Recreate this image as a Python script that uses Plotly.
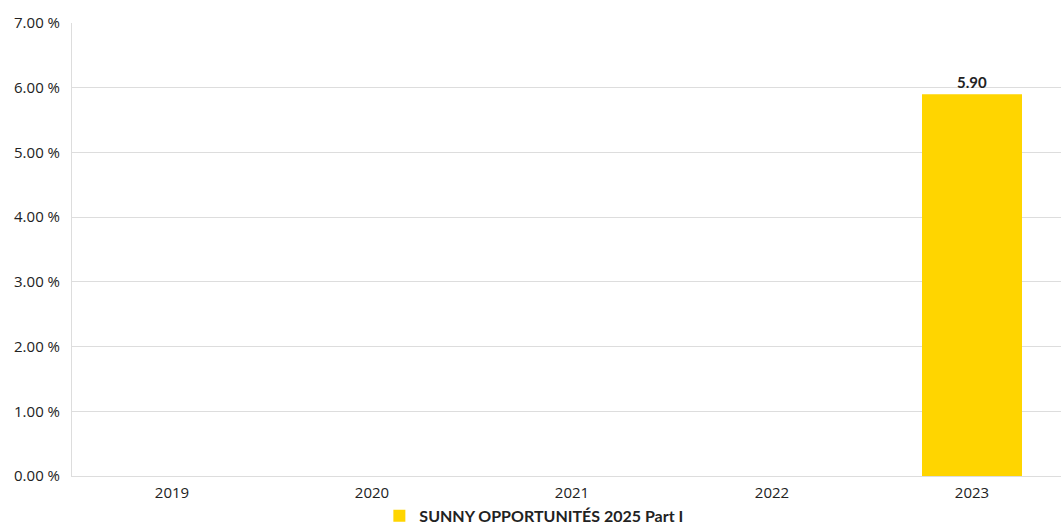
import plotly.graph_objects as go

years = ["2019", "2020", "2021", "2022", "2023"]
values = [None, None, None, None, 5.90]
labels = ["", "", "", "", "5.90"]
series_name = "SUNNY OPPORTUNITÉS 2025 Part I"
y_ticks = [0, 1, 2, 3, 4, 5, 6, 7]
y_tick_text = ["0.00 %", "1.00 %", "2.00 %", "3.00 %", "4.00 %", "5.00 %", "6.00 %", "7.00 %"]

fig = go.Figure()
fig.add_trace(go.Bar(
    x=years, y=values, name=series_name,
    marker=dict(color="#FFD500", line=dict(width=0)),
    text=labels, textposition="outside",
    textfont=dict(family="Lato", size=15, color="#222222", weight="bold"),
    cliponaxis=False,
))
fig.update_layout(
    width=1061, height=525,
    margin=dict(l=72, r=0, t=23, b=49, autoexpand=False),
    paper_bgcolor="white", plot_bgcolor="white",
    bargap=0.5,
    showlegend=True,
    legend=dict(orientation="h", x=0.467, xanchor="center", y=-0.088, yanchor="middle",
                font=dict(family="Lato", size=16, color="#222222", weight="bold"),
                itemwidth=30),
    xaxis=dict(type="category", range=[-0.5, 4.445], showgrid=False,
               showline=True, linecolor="#dddddd", linewidth=1,
               tickfont=dict(family="Open Sans", size=15, color="#222222"),
               ticks="outside", ticklen=3, tickcolor="white"),
    yaxis=dict(range=[0, 7], tickvals=y_ticks, ticktext=y_tick_text,
               showgrid=True, gridcolor="#dddddd", gridwidth=1,
               showline=True, linecolor="#dddddd", linewidth=1,
               zeroline=False,
               tickfont=dict(family="Open Sans", size=15, color="#222222"),
               ticks="outside", ticklen=8, tickcolor="white"),
)
fig.write_html("out.html", config={"displayModeBar": False},
               post_script="document.body.style.margin='0';document.body.style.padding='0';")
